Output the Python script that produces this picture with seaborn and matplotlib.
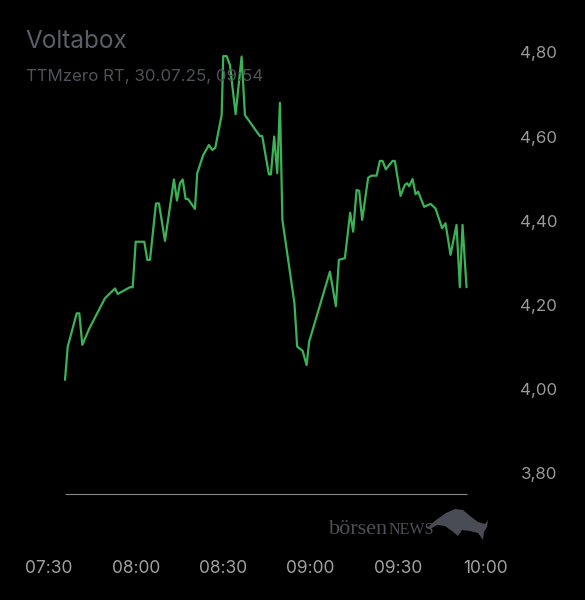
import pandas as pd
import numpy as np
import matplotlib
matplotlib.use('Agg')
import matplotlib.pyplot as plt
import matplotlib.dates as mdates
from matplotlib.patches import Polygon
import seaborn as sns

# Kursverlauf Voltabox, 30.07.25
times = ['07:35:36', '07:36:32', '07:39:37', '07:40:31', '07:41:33', '07:43:57', '07:49:21',
         '07:52:47', '07:53:43', '07:57:56', '07:58:52', '07:59:54', '08:02:51', '08:03:53',
         '08:04:49', '08:06:52', '08:07:54', '08:09:58', '08:13:03', '08:14:05', '08:15:07',
         '08:16:03', '08:17:04', '08:17:58', '08:20:16', '08:21:04', '08:23:07', '08:25:05',
         '08:26:13', '08:27:15', '08:29:27', '08:30:00', '08:31:10', '08:32:18', '08:34:15',
         '08:36:19', '08:37:27', '08:42:36', '08:43:24', '08:45:42', '08:46:23', '08:47:31',
         '08:48:33', '08:49:29', '08:50:20', '08:54:28', '08:55:25', '08:57:17', '08:58:39',
         '08:59:33', '09:06:40', '09:08:43', '09:09:45', '09:11:49', '09:13:38', '09:14:40',
         '09:15:50', '09:16:44', '09:17:46', '09:19:49', '09:20:59', '09:22:43', '09:23:50',
         '09:24:46', '09:25:54', '09:28:12', '09:29:00', '09:30:57', '09:32:26', '09:33:13',
         '09:33:55', '09:35:05', '09:36:07', '09:37:00', '09:39:04', '09:41:16', '09:42:59',
         '09:45:15', '09:46:25', '09:48:08', '09:50:12', '09:51:20', '09:52:16', '09:53:38']
prices = [4.022, 4.101, 4.180, 4.180, 4.105, 4.144, 4.216,
          4.239, 4.226, 4.242, 4.242, 4.350, 4.350, 4.307,
          4.307, 4.441, 4.441, 4.352, 4.498, 4.448, 4.489,
          4.498, 4.452, 4.451, 4.428, 4.513, 4.556, 4.580,
          4.568, 4.573, 4.651, 4.791, 4.791, 4.770, 4.653,
          4.790, 4.651, 4.601, 4.601, 4.510, 4.510, 4.600,
          4.513, 4.680, 4.402, 4.204, 4.101, 4.091, 4.057,
          4.113, 4.279, 4.197, 4.307, 4.311, 4.419, 4.374,
          4.473, 4.471, 4.402, 4.502, 4.507, 4.507, 4.542,
          4.542, 4.522, 4.542, 4.542, 4.459, 4.485, 4.489,
          4.482, 4.499, 4.463, 4.469, 4.433, 4.440, 4.429,
          4.382, 4.394, 4.319, 4.390, 4.242, 4.390, 4.242]

x_ticks = ['07:30', '08:00', '08:30', '09:00', '09:30', '10:00']
y_ticks = [3.80, 4.00, 4.20, 4.40, 4.60, 4.80]
baseline = 3.75

day = '2025-07-30 '
df = pd.DataFrame({'zeit': pd.to_datetime([day + t for t in times]), 'kurs': prices})
xt = pd.to_datetime([day + t for t in x_ticks])

sns.set_style('dark')
plt.rcParams['font.family'] = ['Inter', 'DejaVu Sans']

fig = plt.figure(figsize=(5.85, 6), dpi=100, facecolor='black')
ax = fig.add_axes([0.0833, 0.141, 0.7458, 0.8069])
ax.set_facecolor('black')

sns.lineplot(data=df, x='zeit', y='kurs', color='#3cb257', linewidth=1.6, ax=ax)
ax.hlines(baseline, df['zeit'].min(), df['zeit'].max(), color='#8a8a8a', linewidth=0.8)

ax.set_xlim(xt[0], xt[-1])
ax.set_ylim(3.70, 4.85)
ax.set_xticks(xt)
ax.xaxis.set_major_formatter(mdates.DateFormatter('%H:%M'))
ax.set_yticks(y_ticks)
ax.set_yticklabels([f'{v:.2f}'.replace('.', ',') for v in y_ticks])
ax.yaxis.tick_right()
ax.tick_params(axis='x', length=0, pad=32, labelsize=12.5, labelcolor='#a0a0a0')
ax.tick_params(axis='y', length=0, pad=25.5, labelsize=12.2, labelcolor='#9a9a9a')
ax.set_xlabel('')
ax.set_ylabel('')
ax.grid(False)
for s in ax.spines.values():
    s.set_visible(False)

fig.text(25.5 / 585, 1 - 41 / 600, 'Voltabox', color='#5c5e67', fontsize=17.5, va='center')
fig.text(25.5 / 585, 1 - 76 / 600, 'TTMzero RT, 30.07.25, 09:54', color='#50525a',
         fontsize=12.2, va='center')

# börsenNEWS logo
t1 = fig.text(329 / 585, 1 - 534 / 600, 'börsen', color='#4e5058', fontsize=16,
              family='Liberation Serif', va='baseline')
fig.canvas.draw()
bb = t1.get_window_extent()
fig.text(bb.x1 / 585, 1 - 534 / 600, 'NEWS', color='#4e5058', fontsize=11.5,
         family='Liberation Serif', va='baseline')
bull = [(427, 528), (436, 520), (446, 513), (455, 509), (463, 510), (470, 516), (478, 522),
        (485, 524), (488, 520), (487, 527), (484, 532), (483, 540), (478, 533), (470, 531),
        (462, 530), (458, 536), (452, 531), (445, 526), (437, 525), (430, 529)]
fig.patches.append(Polygon([(px / 585, 1 - py / 600) for px, py in bull], closed=True,
                           transform=fig.transFigure, facecolor='#4a4c55', edgecolor='none'))

fig.savefig('out.png', dpi=100, facecolor='black')
